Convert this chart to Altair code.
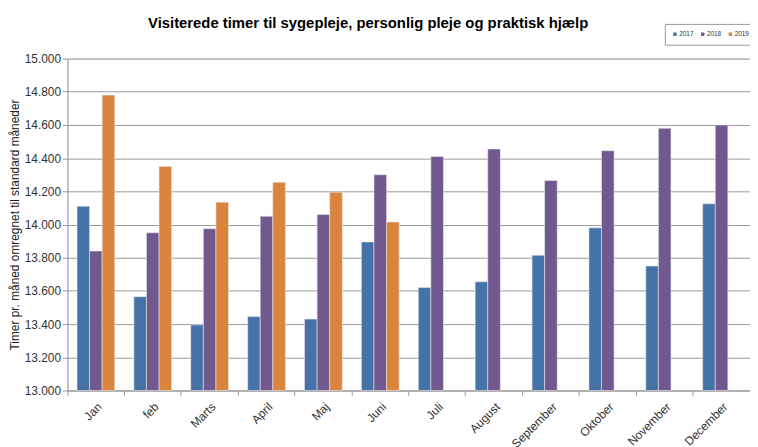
import altair as alt
import pandas as pd

months = ["Jan", "feb", "Marts", "April", "Maj", "Juni", "Juli", "August",
          "September", "Oktober", "November", "December"]
years = ["2017", "2018", "2019"]
v2017 = [14110, 13565, 13395, 13445, 13430, 13895, 13620, 13655, 13815, 13980, 13750, 14125]
v2018 = [13840, 13950, 13975, 14050, 14060, 14300, 14410, 14455, 14265, 14445, 14580, 14600]
v2019 = [14780, 14350, 14135, 14255, 14195, 14015]
colors = ["#4572A7", "#71588F", "#DB843D"]

rows = []
for series, yr in zip([v2017, v2018, v2019], years):
    for m, v in zip(months, series):
        rows.append({"month": m, "year": yr, "value": v})
df = pd.DataFrame(rows)

FONT = "Liberation Sans"

chart = alt.Chart(df).mark_bar(stroke="#e6e6e6", strokeWidth=0.6).encode(
    x=alt.X("month:N", sort=months,
            scale=alt.Scale(paddingInner=0, paddingOuter=0),
            axis=alt.Axis(title=None, labelAngle=315, labelAlign="right",
                          labelBaseline="middle", labelPadding=9, labelOffset=4,
                          labelFontSize=12, labelColor="#333333", labelFont=FONT,
                          bandPosition=0, tickSize=5, tickColor="#999999",
                          domainColor="#999999", grid=False)),
    xOffset=alt.XOffset("year:N", sort=years,
                        scale=alt.Scale(domain=years, paddingInner=0, paddingOuter=0.76)),
    y=alt.Y("value:Q",
            scale=alt.Scale(domain=[13000, 15000], zero=False, nice=False),
            axis=alt.Axis(title="Timer pr. måned omregnet til standard måneder",
                          values=list(range(13000, 15001, 200)),
                          labelExpr="replace(format(datum.value, ',.0f'), ',', '.')",
                          labelFontSize=12, labelColor="#333333", labelFont=FONT,
                          labelPadding=2, tickSize=5, tickColor="#999999",
                          domainColor="#999999", gridColor="#999999",
                          titleFont=FONT, titleFontSize=12, titleFontWeight="normal",
                          titleColor="#222222", titleX=-53, titleY=167.5,
                          titleAngle=270, titleAlign="center", titleBaseline="middle")),
    y2=alt.Y2(datum=13000),
    color=alt.Color("year:N", sort=years,
                    scale=alt.Scale(domain=years, range=colors),
                    legend=alt.Legend(title=None, orient="none", legendX=603, legendY=-35,
                                      direction="horizontal", symbolType="square",
                                      symbolSize=12, labelFontSize=6.5, labelFont=FONT,
                                      labelColor="#333333", labelOffset=1,
                                      columnPadding=6, padding=7,
                                      strokeColor="#999999", fillColor="#ffffff",
                                      symbolStrokeWidth=0)),
).properties(
    width=689, height=335,
    title=alt.TitleParams("Visiterede timer til sygepleje, personlig pleje og praktisk hjælp",
                          font=FONT, fontSize=15, fontWeight="bold", color="#000000",
                          anchor="middle", frame="group", dx=-41, offset=-8),
    autosize=alt.AutoSizeParams(type="none"),
    padding={"left": 60, "top": 49, "right": 0, "bottom": 55},
).configure_view(stroke=None).configure(background="white")

chart.save("out.html", embed_options={"renderer": "svg", "actions": False})
